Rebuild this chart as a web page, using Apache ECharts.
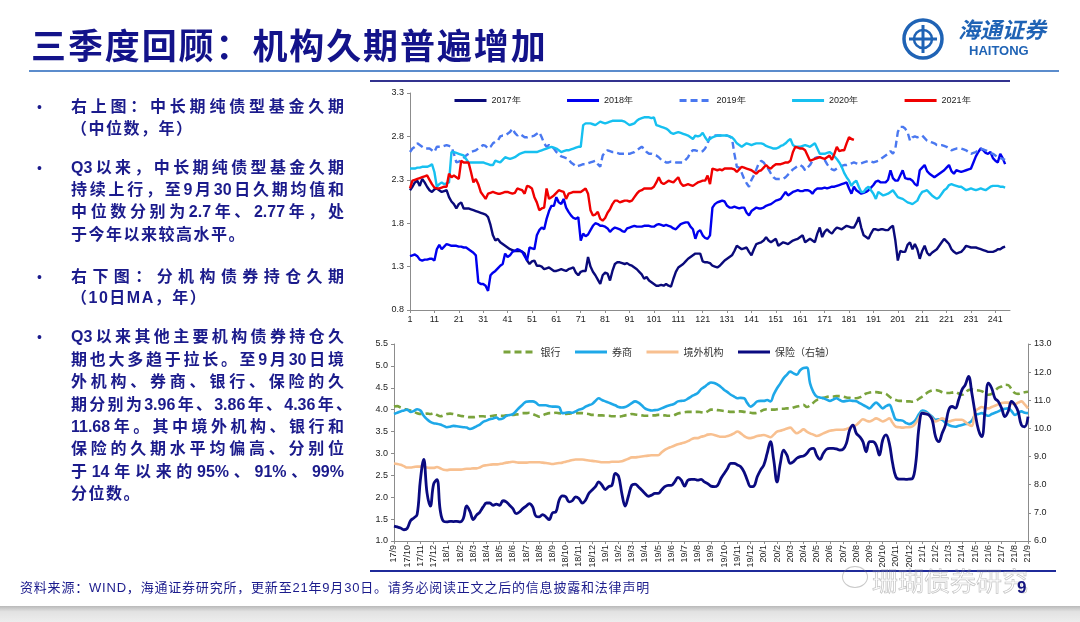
<!DOCTYPE html>
<html>
<head>
<meta charset="utf-8">
<script src="https://cdn.jsdelivr.net/npm/echarts@6/dist/echarts.min.js"></script>
<style>
html,body{margin:0;padding:0;background:#fff;}
#slide{position:relative;width:1080px;height:622px;overflow:hidden;background:#fff;
  font-family:"Liberation Sans",Arial,"Noto Sans CJK SC",sans-serif;}
#chart{position:absolute;left:0;top:0;width:1080px;height:622px;}
.title{position:absolute;left:31px;top:21px;font-size:35px;font-weight:bold;color:#13138a;
  font-family:"Noto Sans CJK SC";letter-spacing:1.9px;line-height:46px;white-space:nowrap;}
.rule{position:absolute;}
.txt{position:absolute;left:71px;font-size:16px;font-weight:bold;color:#1b1b8c;
  letter-spacing:1.5px;white-space:nowrap;line-height:20px;height:20px;}
.full{width:273px;text-align:justify;text-align-last:justify;letter-spacing:0;}
.bul{position:absolute;left:37px;font-size:14px;line-height:20px;color:#1b1b8c;}
.foot{position:absolute;left:20px;top:579px;font-size:13px;color:#1b1b8c;letter-spacing:0.8px;
  white-space:nowrap;line-height:18px;font-family:"Liberation Sans","Noto Sans CJK SC";}
.page{position:absolute;left:1017px;top:578px;font-size:17px;font-weight:bold;color:#141480;}
.band{position:absolute;left:0;top:606px;width:1080px;height:16px;
  background:linear-gradient(#b9b9b9,#e2e2e2 35%,#ededed);}
.wm{position:absolute;left:872px;top:561px;font-size:26px;color:rgba(255,255,255,0.1);
  -webkit-text-stroke:0.7px rgba(120,120,120,0.45);font-family:"Noto Sans CJK SC";white-space:nowrap;}
.wmi{position:absolute;left:842px;top:566px;width:24px;height:20px;border-radius:50%;
  border:1px solid rgba(120,120,120,0.4);}
</style>
</head>
<body>
<div id="slide">
  <div id="chart"></div>
  <div class="title">三季度回顾：机构久期普遍增加</div>
  <div class="rule" style="left:29px;top:70px;width:1030px;height:2px;background:#5b8ccc;"></div>
  <div class="rule" style="left:370px;top:80px;width:640px;height:2px;background:#33338f;"></div>
  <div class="rule" style="left:370px;top:570px;width:686px;height:2px;background:#1f2a9a;"></div>

  <div class="bul" style="top:97px;">•</div>
  <div class="txt full" style="top:97px;">右上图：中长期纯债型基金久期</div>
  <div class="txt" style="top:119px;">（中位数，年）</div>

  <div class="bul" style="top:158px;">•</div>
  <div class="txt full" style="top:158px;">Q3以来，中长期纯债型基金久期</div>
  <div class="txt full" style="top:180px;">持续上行，至9月30日久期均值和</div>
  <div class="txt full" style="top:202px;">中位数分别为2.7年、2.77年，处</div>
  <div class="txt" style="top:225px;">于今年以来较高水平。</div>

  <div class="bul" style="top:267px;">•</div>
  <div class="txt full" style="top:267px;">右下图：分机构债券持仓久期</div>
  <div class="txt" style="top:288px;">（10日MA，年）</div>

  <div class="bul" style="top:327px;">•</div>
  <div class="txt full" style="top:327px;">Q3以来其他主要机构债券持仓久</div>
  <div class="txt full" style="top:350px;">期也大多趋于拉长。至9月30日境</div>
  <div class="txt full" style="top:372px;">外机构、券商、银行、保险的久</div>
  <div class="txt full" style="top:395px;width:281px;">期分别为3.96年、3.86年、4.36年、</div>
  <div class="txt full" style="top:417px;">11.68年。其中境外机构、银行和</div>
  <div class="txt full" style="top:439px;">保险的久期水平均偏高、分别位</div>
  <div class="txt full" style="top:462px;">于14年以来的95%、91%、99%</div>
  <div class="txt" style="top:484px;">分位数。</div>

  <div class="wmi"></div>
  <div class="wm">珊瑚债券研究</div>
  <div class="foot">资料来源：WIND，海通证券研究所，更新至21年9月30日。请务必阅读正文之后的信息披露和法律声明</div>
  <div class="page">9</div>
  <div class="band"></div>
</div>
<script>
// 上图：中长期纯债型基金久期（中位数），按交易日序号
var dayCount = 247;
var dayCats = [];
for (var i = 1; i <= dayCount; i++) dayCats.push(String(i));

var dur2017 = [
  2.18,2.22,2.27,2.29,2.23,2.31,2.27,2.22,2.18,2.16,
  2.19,2.2,2.18,2.16,2.17,2.18,2.1,2.05,2.02,1.97,
  2.02,2.04,1.97,1.97,1.97,1.96,1.95,1.94,1.93,1.92,
  1.91,1.9,1.87,1.78,1.66,1.6,1.62,1.58,1.56,1.54,
  1.52,1.5,1.49,1.48,1.48,1.48,1.47,1.45,1.37,1.33,
  1.36,1.37,1.31,1.31,1.3,1.27,1.28,1.29,1.27,1.25,
  1.25,1.26,1.27,1.26,1.25,1.27,1.28,1.29,1.23,1.2,
  1.24,1.25,1.25,1.41,1.3,1.24,1.2,1.15,1.1,1.2,
  1.23,1.22,1.14,1.25,1.33,1.35,1.35,1.34,1.33,1.34,
  1.32,1.31,1.29,1.27,1.24,1.21,1.16,1.18,1.14,1.12,
  1.1,1.08,1.08,1.09,1.08,1.1,1.08,1.07,1.16,1.24,
  1.29,1.31,1.33,1.36,1.39,1.41,1.43,1.45,1.45,1.45,
  1.36,1.35,1.35,1.34,1.31,1.3,1.29,1.31,1.34,1.37,
  1.39,1.41,1.43,1.48,1.54,1.52,1.5,1.51,1.52,1.47,
  1.43,1.5,1.56,1.57,1.58,1.6,1.64,1.6,1.58,1.6,
  1.62,1.54,1.56,1.58,1.57,1.56,1.58,1.6,1.61,1.62,
  1.64,1.66,1.58,1.6,1.62,1.6,1.58,1.68,1.75,1.64,
  1.7,1.73,1.7,1.68,1.72,1.75,1.74,1.73,1.75,1.77,
  1.76,1.75,1.75,1.8,1.87,1.75,1.66,1.64,1.62,1.68,
  1.73,1.73,1.72,1.73,1.73,1.72,1.72,1.75,1.77,1.6,
  1.37,1.48,1.47,1.47,1.55,1.58,1.5,1.56,1.5,1.39,
  1.48,1.54,1.46,1.43,1.46,1.48,1.5,1.54,1.58,1.62,
  1.59,1.56,1.5,1.47,1.45,1.46,1.47,1.5,1.54,1.53,
  1.52,1.52,1.52,1.51,1.5,1.49,1.48,1.47,1.47,1.47,
  1.48,1.5,1.5,1.52,1.53
];
var dur2018 = [
  1.42,1.43,1.44,1.42,1.38,1.37,1.38,1.38,1.39,1.39,
  1.37,1.5,1.55,1.5,1.53,1.56,1.55,1.54,1.54,1.54,
  1.53,1.53,1.52,1.52,1.5,1.48,1.46,1.43,1.12,1.1,
  1.1,1.08,1.02,1.2,1.23,1.25,1.28,1.31,1.33,1.45,
  1.41,1.43,1.47,1.48,1.5,1.49,1.47,1.42,1.37,1.52,
  1.51,1.5,1.66,1.72,1.75,1.73,1.85,1.94,2.0,2.0,
  2.1,2.04,2.02,2.08,1.98,1.93,1.89,1.86,1.85,1.87,
  1.6,1.68,1.65,1.67,1.72,1.77,1.8,1.79,1.77,1.77,
  1.76,1.74,1.7,1.73,1.75,1.74,1.73,1.71,1.7,1.74,
  1.75,1.76,1.77,1.76,1.76,1.76,1.77,1.77,1.77,1.76,
  1.76,1.78,1.79,1.78,1.77,1.78,1.77,1.76,1.74,1.73,
  1.76,1.79,1.8,1.81,1.81,1.76,1.73,1.62,1.7,1.72,
  1.66,1.63,1.62,1.66,1.98,2.02,2.04,2.05,2.06,2.05,
  2.0,1.98,1.98,1.99,1.98,1.97,1.98,1.98,1.92,1.89,
  1.94,1.96,1.98,1.97,1.97,1.98,2.0,2.01,2.02,2.04,
  2.06,2.07,2.08,2.12,2.16,2.12,2.14,2.16,2.17,2.18,
  2.17,2.17,2.18,2.18,2.17,2.14,2.18,2.2,2.2,2.2,
  2.21,2.2,2.21,2.22,2.22,2.23,2.24,2.25,2.26,2.27,
  2.2,2.14,2.22,2.18,2.16,2.14,2.15,2.16,2.18,2.21,
  2.24,2.28,2.29,2.27,2.27,2.27,2.3,2.41,2.32,2.29,
  2.29,2.35,2.41,2.32,2.31,2.31,2.29,2.25,2.23,2.41,
  2.44,2.47,2.4,2.37,2.35,2.33,2.35,2.37,2.39,2.41,
  2.44,2.47,2.4,2.37,2.41,2.4,2.39,2.4,2.41,2.42,
  2.43,2.5,2.57,2.62,2.66,2.64,2.61,2.6,2.62,2.55,
  2.52,2.5,2.6,2.55,2.48
];
var dur2019 = [
  2.62,2.66,2.68,2.72,2.7,2.68,2.66,2.66,2.66,2.64,
  2.62,2.68,2.68,2.68,2.69,2.7,2.69,2.68,2.6,2.5,
  2.51,2.52,2.55,2.58,2.6,2.62,2.63,2.64,2.66,2.68,
  2.7,2.69,2.66,2.68,2.72,2.74,2.75,2.8,2.81,2.81,
  2.83,2.85,2.89,2.84,2.81,2.83,2.81,2.79,2.79,2.8,
  2.8,2.81,2.83,2.85,2.79,2.72,2.68,2.7,2.68,2.66,
  2.62,2.6,2.57,2.56,2.55,2.54,2.5,2.48,2.45,2.46,
  2.47,2.48,2.48,2.49,2.5,2.51,2.52,2.48,2.45,2.58,
  2.62,2.64,2.63,2.62,2.62,2.61,2.6,2.6,2.6,2.6,
  2.6,2.61,2.62,2.64,2.66,2.68,2.66,2.62,2.6,2.6,
  2.59,2.58,2.56,2.53,2.52,2.5,2.5,2.51,2.51,2.5,
  2.5,2.5,2.5,2.53,2.56,2.62,2.64,2.64,2.63,2.62,
  2.63,2.66,2.72,2.79,2.81,2.81,2.81,2.81,2.81,2.81,
  2.81,2.8,2.78,2.6,2.45,2.44,2.38,2.31,2.26,2.22,
  2.3,2.35,2.42,2.49,2.52,2.5,2.46,2.42,2.37,2.33,
  2.31,2.31,2.31,2.31,2.33,2.36,2.39,2.42,2.44,2.46,
  2.47,2.45,2.41,2.44,2.47,2.52,2.55,2.56,2.56,2.55,
  2.53,2.48,2.44,2.42,2.41,2.43,2.45,2.46,2.47,2.47,
  2.48,2.49,2.5,2.49,2.48,2.49,2.5,2.51,2.52,2.51,
  2.5,2.51,2.52,2.54,2.56,2.58,2.6,2.63,2.6,2.66,
  2.85,2.91,2.91,2.89,2.85,2.75,2.79,2.8,2.79,2.8,
  2.81,2.78,2.75,2.74,2.73,2.72,2.7,2.7,2.7,2.69,
  2.68,2.66,2.64,2.65,2.66,2.66,2.66,2.65,2.64,2.62,
  2.6,2.61,2.62,2.64,2.66,2.65,2.64,2.63,2.61,2.6,
  2.58,2.56,2.55,2.54,2.53
];
var dur2020 = [
  2.43,2.43,2.43,2.44,2.44,2.45,2.45,2.45,2.46,2.48,
  2.39,2.22,2.25,2.27,2.25,2.26,2.27,2.62,2.62,2.61,
  2.6,2.59,2.58,2.54,2.5,2.5,2.5,2.5,2.5,2.5,
  2.5,2.49,2.48,2.47,2.47,2.52,2.51,2.5,2.53,2.56,
  2.55,2.54,2.55,2.56,2.58,2.6,2.61,2.62,2.62,2.62,
  2.62,2.62,2.62,2.63,2.64,2.65,2.66,2.67,2.68,2.67,
  2.66,2.64,2.62,2.63,2.64,2.64,2.65,2.66,2.67,2.68,
  2.68,2.93,2.95,2.95,2.95,2.94,2.93,2.95,2.97,2.96,
  2.95,2.96,2.97,2.98,2.98,2.98,2.98,2.98,2.97,2.95,
  2.93,2.94,2.95,2.98,3.0,3.01,3.02,3.02,3.02,3.01,
  3.02,2.93,2.92,2.91,2.9,2.89,2.87,2.84,2.83,2.84,
  2.85,2.84,2.83,2.82,2.81,2.79,2.77,2.81,2.8,2.81,
  2.84,2.79,2.75,2.77,2.79,2.8,2.81,2.81,2.81,2.81,
  2.81,2.8,2.79,2.76,2.72,2.7,2.68,2.7,2.72,2.71,
  2.7,2.71,2.72,2.72,2.72,2.71,2.69,2.68,2.67,2.66,
  2.66,2.67,2.69,2.7,2.72,2.75,2.77,2.7,2.68,2.68,
  2.68,2.69,2.7,2.69,2.68,2.7,2.72,2.66,2.6,2.6,
  2.6,2.61,2.62,2.6,2.57,2.54,2.5,2.45,2.38,2.33,
  2.29,2.23,2.27,2.29,2.22,2.16,2.16,2.2,2.22,2.18,
  2.14,2.08,2.16,2.14,2.12,2.13,2.14,2.16,2.18,2.14,
  2.1,2.09,2.08,2.06,2.04,2.03,2.02,2.04,2.06,2.12,
  2.16,2.17,2.18,2.15,2.12,2.1,2.08,2.1,2.14,2.18,
  2.2,2.24,2.25,2.24,2.23,2.22,2.22,2.2,2.18,2.19,
  2.2,2.19,2.18,2.19,2.2,2.19,2.18,2.2,2.22,2.23,
  2.23,2.23,2.22,2.22,2.21
];
var dur2021 = [
  2.2,2.29,2.3,2.31,2.32,2.33,2.34,2.35,2.3,2.25,
  2.21,2.2,2.2,2.21,2.22,2.22,2.37,2.33,2.35,2.33,
  2.31,2.52,2.5,2.5,2.5,2.39,2.27,2.31,2.25,2.16,
  2.12,2.08,2.14,2.15,2.16,2.15,2.14,2.14,2.15,2.16,
  2.16,2.15,2.14,2.15,2.2,2.19,2.18,2.14,2.23,2.22,
  2.2,2.1,2.04,1.95,1.97,1.98,2.2,2.08,2.1,2.12,
  2.15,2.18,2.17,2.16,2.08,2.14,2.15,2.16,2.16,2.16,
  2.16,2.18,2.2,2.14,1.95,1.89,1.9,1.93,1.85,1.83,
  1.86,1.92,1.96,2.02,2.06,2.06,2.04,2.05,2.06,2.06,
  2.05,2.06,2.1,2.14,2.17,2.18,2.2,2.2,2.2,2.2,
  2.22,2.27,2.33,2.27,2.25,2.27,2.29,2.28,2.27,2.3,
  2.33,2.26,2.23,2.24,2.25,2.24,2.23,2.25,2.27,2.28,
  2.29,2.29,2.35,2.25,2.43,2.42,2.41,2.42,2.41,2.43,
  2.43,2.43,2.43,2.42,2.39,2.42,2.45,2.44,2.43,2.42,
  2.41,2.39,2.37,2.4,2.41,2.44,2.47,2.44,2.43,2.46,
  2.48,2.48,2.48,2.49,2.5,2.5,2.52,2.62,2.68,2.67,
  2.66,2.66,2.64,2.58,2.52,2.53,2.54,2.55,2.56,2.55,
  2.54,2.56,2.58,2.53,2.6,2.68,2.63,2.64,2.64,2.72,
  2.79,2.77,2.76
];

// 下图：分机构债券持仓久期（10日MA），每月取4个观测
var months = ['17/9','17/10','17/11','17/12',
  '18/1','18/2','18/3','18/4','18/5','18/6','18/7','18/8','18/9','18/10','18/11','18/12',
  '19/1','19/2','19/3','19/4','19/5','19/6','19/7','19/8','19/9','19/10','19/11','19/12',
  '20/1','20/2','20/3','20/4','20/5','20/6','20/7','20/8','20/9','20/10','20/11','20/12',
  '21/1','21/2','21/3','21/4','21/5','21/6','21/7','21/8','21/9'];
var weekCats = [];
months.slice(0, -1).forEach(function (m) {
  weekCats.push(m, m + '#2', m + '#3', m + '#4');
});
weekCats.push(months[months.length - 1]);

var bankDur = [
  4.07,4.08,4.05,4.02, 4.0,3.98,3.95,3.92, 3.9,3.9,3.91,3.9, 3.92,3.88,3.85,3.87,
  3.9,3.91,3.9,3.88, 3.86,3.85,3.84,3.83, 3.83,3.84,3.85,3.85, 3.84,3.85,3.86,3.87,
  3.86,3.86,3.87,3.88, 3.88,3.89,3.9,3.92, 3.92,3.93,3.9,3.87, 3.84,3.87,3.9,3.92,
  3.92,3.93,3.92,3.91, 3.9,3.91,3.92,3.92, 3.92,3.92,3.91,3.9, 3.88,3.88,3.87,3.87,
  3.86,3.86,3.85,3.85, 3.84,3.85,3.87,3.88, 3.9,3.89,3.88,3.87, 3.86,3.86,3.87,3.87,
  3.88,3.88,3.87,3.86, 3.86,3.88,3.91,3.93, 3.94,3.95,3.95,3.95, 3.95,3.94,3.93,3.96,
  4.0,4.0,3.99,3.98, 3.97,3.96,3.95,3.95, 3.96,3.96,3.95,3.94, 3.93,3.92,3.93,3.96,
  4.0,4.01,4.0,4.0, 4.01,4.02,4.02,4.03, 4.03,4.05,4.07,4.09, 4.11,4.06,4.1,4.16,
  4.22,4.24,4.27,4.29, 4.3,4.3,4.31,4.31, 4.3,4.28,4.27,4.26, 4.26,4.28,4.33,4.37,
  4.39,4.4,4.4,4.39, 4.38,4.36,4.3,4.25, 4.22,4.2,4.2,4.19, 4.19,4.18,4.2,4.25,
  4.3,4.36,4.41,4.44, 4.45,4.43,4.4,4.38, 4.38,4.39,4.4,4.37, 4.34,4.38,4.45,4.46,
  4.45,4.44,4.42,4.38, 4.34,4.36,4.43,4.5, 4.53,4.57,4.56,4.47, 4.38,4.36,4.38,4.4,
  4.41
];
var brokerDur = [
  3.9,3.93,3.96,3.98, 4.0,3.95,3.97,4.01, 3.98,3.86,3.78,3.72, 3.69,3.68,3.66,3.63,
  3.6,3.61,3.63,3.62, 3.61,3.6,3.59,3.56, 3.58,3.62,3.66,3.72, 3.75,3.78,3.8,3.82,
  3.78,3.8,3.86,3.88, 3.9,3.97,4.05,4.12, 4.18,4.19,4.19,4.16, 4.1,4.1,4.1,4.08,
  4.07,4.07,4.06,3.92, 3.93,3.94,3.93,3.96, 4.0,4.02,4.07,4.1, 4.13,4.2,4.26,4.22,
  4.19,4.16,4.13,4.1, 4.06,4.05,4.06,4.1, 4.15,4.19,4.16,4.1, 4.03,4.0,3.98,3.99,
  4.0,4.03,4.06,4.09, 4.11,4.14,4.19,4.2, 4.21,4.25,4.3,4.34, 4.38,4.47,4.52,4.58,
  4.62,4.61,4.57,4.52, 4.45,4.4,4.34,4.3, 4.26,4.27,4.26,4.15, 4.07,4.12,4.19,4.2,
  4.2,4.22,4.19,4.35, 4.49,4.6,4.72,4.8, 4.87,4.83,4.8,4.9, 4.95,4.96,4.6,4.4,
  4.3,4.28,4.26,4.23, 4.2,4.23,4.26,4.22, 4.19,4.2,4.21,4.2, 4.19,4.15,4.11,4.07,
  4.03,4.1,4.16,4.1, 4.03,4.08,4.11,3.95, 3.77,3.76,3.75,3.7, 3.67,3.7,3.77,3.9,
  3.98,3.96,3.9,3.84, 3.77,3.78,3.77,3.7, 3.65,3.62,3.61,3.63, 3.65,3.67,3.69,3.75,
  3.88,3.9,3.92,3.89, 3.86,3.9,3.93,3.96, 4.0,4.02,4.03,3.97, 3.88,3.92,3.96,3.93,
  3.92
];
var foreignDur = [
  2.77,2.76,2.74,2.71, 2.68,2.68,2.69,2.7, 2.7,2.69,2.68,2.67, 2.67,2.69,2.66,2.63,
  2.62,2.63,2.63,2.63, 2.63,2.64,2.65,2.65, 2.66,2.66,2.68,2.72, 2.73,2.74,2.75,2.75,
  2.76,2.77,2.79,2.8, 2.81,2.8,2.79,2.79, 2.79,2.8,2.8,2.8, 2.8,2.79,2.78,2.77,
  2.76,2.77,2.78,2.79, 2.81,2.83,2.85,2.86, 2.86,2.86,2.85,2.84, 2.83,2.82,2.81,2.8,
  2.8,2.8,2.81,2.81, 2.81,2.82,2.85,2.88, 2.91,2.91,2.92,2.93, 2.94,2.95,2.96,2.96,
  2.96,3.02,3.08,3.12, 3.15,3.18,3.21,3.23, 3.25,3.28,3.32,3.35, 3.35,3.38,3.4,3.43,
  3.44,3.42,3.4,3.38, 3.38,3.4,3.42,3.46, 3.5,3.46,3.4,3.36, 3.35,3.37,3.4,3.41,
  3.42,3.4,3.37,3.43, 3.5,3.52,3.54,3.57, 3.59,3.52,3.46,3.5, 3.55,3.5,3.46,3.43,
  3.4,3.42,3.46,3.49, 3.52,3.53,3.54,3.54, 3.54,3.56,3.59,3.62, 3.65,3.72,3.78,3.75,
  3.73,3.76,3.8,3.77, 3.73,3.76,3.8,3.7, 3.61,3.6,3.59,3.6, 3.6,3.62,3.69,3.82,
  3.93,3.92,3.88,3.8, 3.73,3.76,3.8,3.77, 3.73,3.75,3.77,3.77, 3.77,3.72,3.66,3.63,
  3.96,4.02,4.06,4.04, 4.03,4.06,4.09,4.12, 4.15,4.16,4.16,4.14, 4.13,4.16,4.19,4.12,
  4.03
];
var insurerDur = [
  6.53,6.5,6.46,6.4, 6.45,6.72,6.82,6.94, 8.18,8.9,7.71,7.24, 8.02,8.18,7.09,6.7,
  6.68,6.7,6.69,6.7, 6.68,6.8,7.25,7.05, 6.76,6.92,7.03,7.21, 7.35,7.35,7.27,7.31,
  7.27,7.43,7.39,7.27, 7.15,6.97,7.03,7.15, 7.24,7.33,7.21,6.88, 6.86,6.94,6.86,6.76,
  7.0,7.03,7.45,7.6, 7.57,7.39,7.43,7.57, 7.51,7.35,7.45,7.69, 7.81,7.93,8.1,7.98,
  7.83,7.93,7.98,8.4, 8.3,7.69,7.24,7.6, 7.98,8.02,7.93,7.81, 7.69,7.59,7.63,7.69,
  7.69,7.81,7.93,7.98, 7.98,8.1,8.26,8.16, 7.95,8.16,8.19,8.19, 8.16,8.19,8.1,8.04,
  7.95,7.93,7.98,8.22, 8.4,8.58,8.76,8.76, 8.7,8.64,8.46,8.16, 7.93,7.95,8.28,8.52,
  8.7,9.11,9.53,8.88, 8.1,8.76,9.23,9.05, 8.76,8.82,8.94,9.0, 9.02,9.11,9.26,9.29,
  9.05,8.9,9.11,9.26, 9.29,9.29,9.27,9.23, 9.26,9.47,9.95,10.12, 9.83,9.71,9.53,9.17,
  9.53,9.53,9.41,9.05, 9.59,9.77,9.47,8.76, 8.28,8.2,8.2,8.19, 8.2,8.22,8.76,10.06,
  10.54,10.52,10.48,10.3, 9.71,9.53,9.83,10.12, 10.66,10.78,10.72,11.02, 11.37,11.55,11.85,11.25,
  10.54,9.95,9.71,10.66, 11.61,11.43,11.07,10.96, 10.72,10.42,10.6,10.96, 10.84,10.6,10.12,10.06,
  10.42
];

var myChart = echarts.init(document.getElementById('chart'));

var axisGray = '#8c8c8c';
var labelFont = { fontSize: 9, color: '#222', fontFamily: 'Liberation Sans' };
var oneDecimal = function (v) { return v.toFixed(1); };
var monthTick = function (idx) { return idx % 4 === 0; };

function lineSeries(name, data, color, dashed, x, y, width, smooth) {
  return {
    name: name, type: 'line', xAxisIndex: x, yAxisIndex: y, data: data,
    symbol: 'none', showSymbol: false, smooth: smooth || false,
    lineStyle: { color: color, width: width, type: dashed ? [7, 4] : 'solid' },
    itemStyle: { color: color }
  };
}

var logoBlue = '#1f63b5';

option = {
  animation: false,
  grid: [
    { left: 410, top: 93, width: 600, height: 217, outerBoundsMode: 'none' },
    { left: 394, top: 344, width: 634, height: 197, outerBoundsMode: 'none' }
  ],
  legend: [
    {
      data: ['2017年', '2018年', '2019年', '2020年', '2021年'],
      left: 448, top: 91, itemWidth: 32, itemHeight: 10, itemGap: 45,
      itemStyle: { opacity: 0 },
      lineStyle: { width: 3 },
      textStyle: { fontSize: 9, color: '#222', fontFamily: 'Liberation Sans' }
    },
    {
      data: ['银行', '券商', '境外机构', '保险（右轴）'],
      left: 497, top: 342, itemWidth: 32, itemHeight: 10, itemGap: 13,
      itemStyle: { opacity: 0 },
      lineStyle: { width: 3 },
      textStyle: { fontSize: 10, color: '#333', fontFamily: 'Noto Sans CJK SC' }
    }
  ],
  xAxis: [
    {
      type: 'category', gridIndex: 0, data: dayCats, boundaryGap: false,
      axisLine: { lineStyle: { color: axisGray } },
      axisTick: { interval: 9, length: 3, lineStyle: { color: axisGray } },
      axisLabel: Object.assign({ interval: 9, margin: 5 }, labelFont),
      splitLine: { show: false }
    },
    {
      type: 'category', gridIndex: 1, data: weekCats, boundaryGap: false,
      axisLine: { lineStyle: { color: axisGray } },
      axisTick: { interval: monthTick, length: 3, lineStyle: { color: axisGray } },
      axisLabel: Object.assign({
        interval: monthTick, rotate: 90, margin: 4,
        formatter: function (v) { return v.split('#')[0]; }
      }, labelFont),
      splitLine: { show: false }
    }
  ],
  yAxis: [
    {
      type: 'value', gridIndex: 0, min: 0.8, max: 3.3, interval: 0.5,
      axisLine: { show: true, lineStyle: { color: axisGray } },
      axisTick: { show: true, length: 3, lineStyle: { color: axisGray } },
      axisLabel: Object.assign({ formatter: oneDecimal, margin: 6 }, labelFont),
      splitLine: { show: false }
    },
    {
      type: 'value', gridIndex: 1, min: 1.0, max: 5.5, interval: 0.5,
      axisLine: { show: true, lineStyle: { color: axisGray } },
      axisTick: { show: true, length: 3, lineStyle: { color: axisGray } },
      axisLabel: Object.assign({ formatter: oneDecimal, margin: 6 }, labelFont),
      splitLine: { show: false }
    },
    {
      type: 'value', gridIndex: 1, position: 'right', min: 6, max: 13, interval: 1,
      axisLine: { show: true, lineStyle: { color: axisGray } },
      axisTick: { show: true, length: 3, lineStyle: { color: axisGray } },
      axisLabel: Object.assign({ formatter: oneDecimal, margin: 6 }, labelFont),
      splitLine: { show: false }
    }
  ],
  series: [
    lineSeries('2017年', dur2017, '#0a0a7a', false, 0, 0, 2.4),
    lineSeries('2018年', dur2018, '#0000ee', false, 0, 0, 2.4),
    lineSeries('2019年', dur2019, '#4a78f0', true, 0, 0, 2.4),
    lineSeries('2020年', dur2020, '#16c0f0', false, 0, 0, 2.4),
    lineSeries('2021年', dur2021, '#f00000', false, 0, 0, 2.4),
    lineSeries('银行', bankDur, '#7aa33c', true, 1, 1, 2.6, 0.4),
    lineSeries('券商', brokerDur, '#1ea8e8', false, 1, 1, 2.6, 0.4),
    lineSeries('境外机构', foreignDur, '#f8c090', false, 1, 1, 2.6, 0.4),
    lineSeries('保险（右轴）', insurerDur, '#0a0a80', false, 1, 2, 2.8, 0.4)
  ],
  graphic: [
    { type: 'circle', shape: { cx: 923, cy: 39, r: 19 }, style: { fill: 'none', stroke: logoBlue, lineWidth: 3.5 } },
    { type: 'circle', shape: { cx: 923, cy: 39, r: 9 }, style: { fill: 'none', stroke: logoBlue, lineWidth: 2.5 } },
    { type: 'rect', shape: { x: 921.5, y: 25, width: 3, height: 28 }, style: { fill: logoBlue } },
    { type: 'rect', shape: { x: 909, y: 37.5, width: 28, height: 3 }, style: { fill: logoBlue } },
    { type: 'text', left: 958, top: 19, style: { text: '海通证券', font: 'italic bold 22px "Noto Sans CJK SC"', fill: logoBlue } },
    { type: 'text', left: 969, top: 45, style: { text: 'HAITONG', font: 'bold 13px "Liberation Sans"', fill: logoBlue } }
  ]
};

myChart.setOption(option);
</script>
</body>
</html>
